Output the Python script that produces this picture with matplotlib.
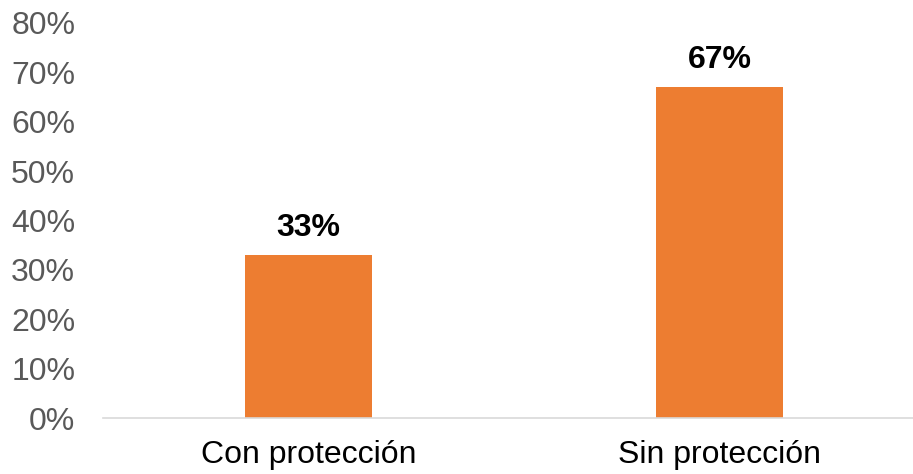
import matplotlib.pyplot as plt
from matplotlib.ticker import PercentFormatter

categorias = ["Con protección", "Sin protección"]
valores = [33, 67]
etiquetas = ["33%", "67%"]
y_ticks = [0, 10, 20, 30, 40, 50, 60, 70, 80]

plt.rcParams['font.family'] = ['Liberation Sans', 'DejaVu Sans']

fig = plt.figure(figsize=(9.13, 4.74), dpi=100)
ax = fig.add_axes([103 / 913, 56 / 474, 822 / 913, 395 / 474])

x = range(len(categorias))
barras = ax.bar(x, valores, width=0.31, color='#ED7D31')

# etiquetas encima de cada barra
for b, txt in zip(barras, etiquetas):
    ax.annotate(txt, (b.get_x() + b.get_width() / 2, b.get_height()),
                xytext=(0, 13.5), textcoords='offset points',
                ha='center', va='baseline', fontsize=23, fontweight='bold', color='black')

ax.set_xlim(-0.5, 1.5)
ax.set_ylim(0, 80)
ax.set_yticks(y_ticks)
ax.yaxis.set_major_formatter(PercentFormatter(decimals=0))
ax.set_xticks(list(x))
ax.set_xticklabels(categorias)

ax.tick_params(axis='y', length=0, pad=20, labelsize=23, labelcolor='#595959')
ax.tick_params(axis='x', length=0, pad=16, labelsize=23, labelcolor='black')

for s in ['top', 'right', 'left']:
    ax.spines[s].set_visible(False)
ax.spines['bottom'].set_color('#d9d9d9')
ax.spines['bottom'].set_linewidth(1.2)

fig.savefig('out.png', dpi=100)
